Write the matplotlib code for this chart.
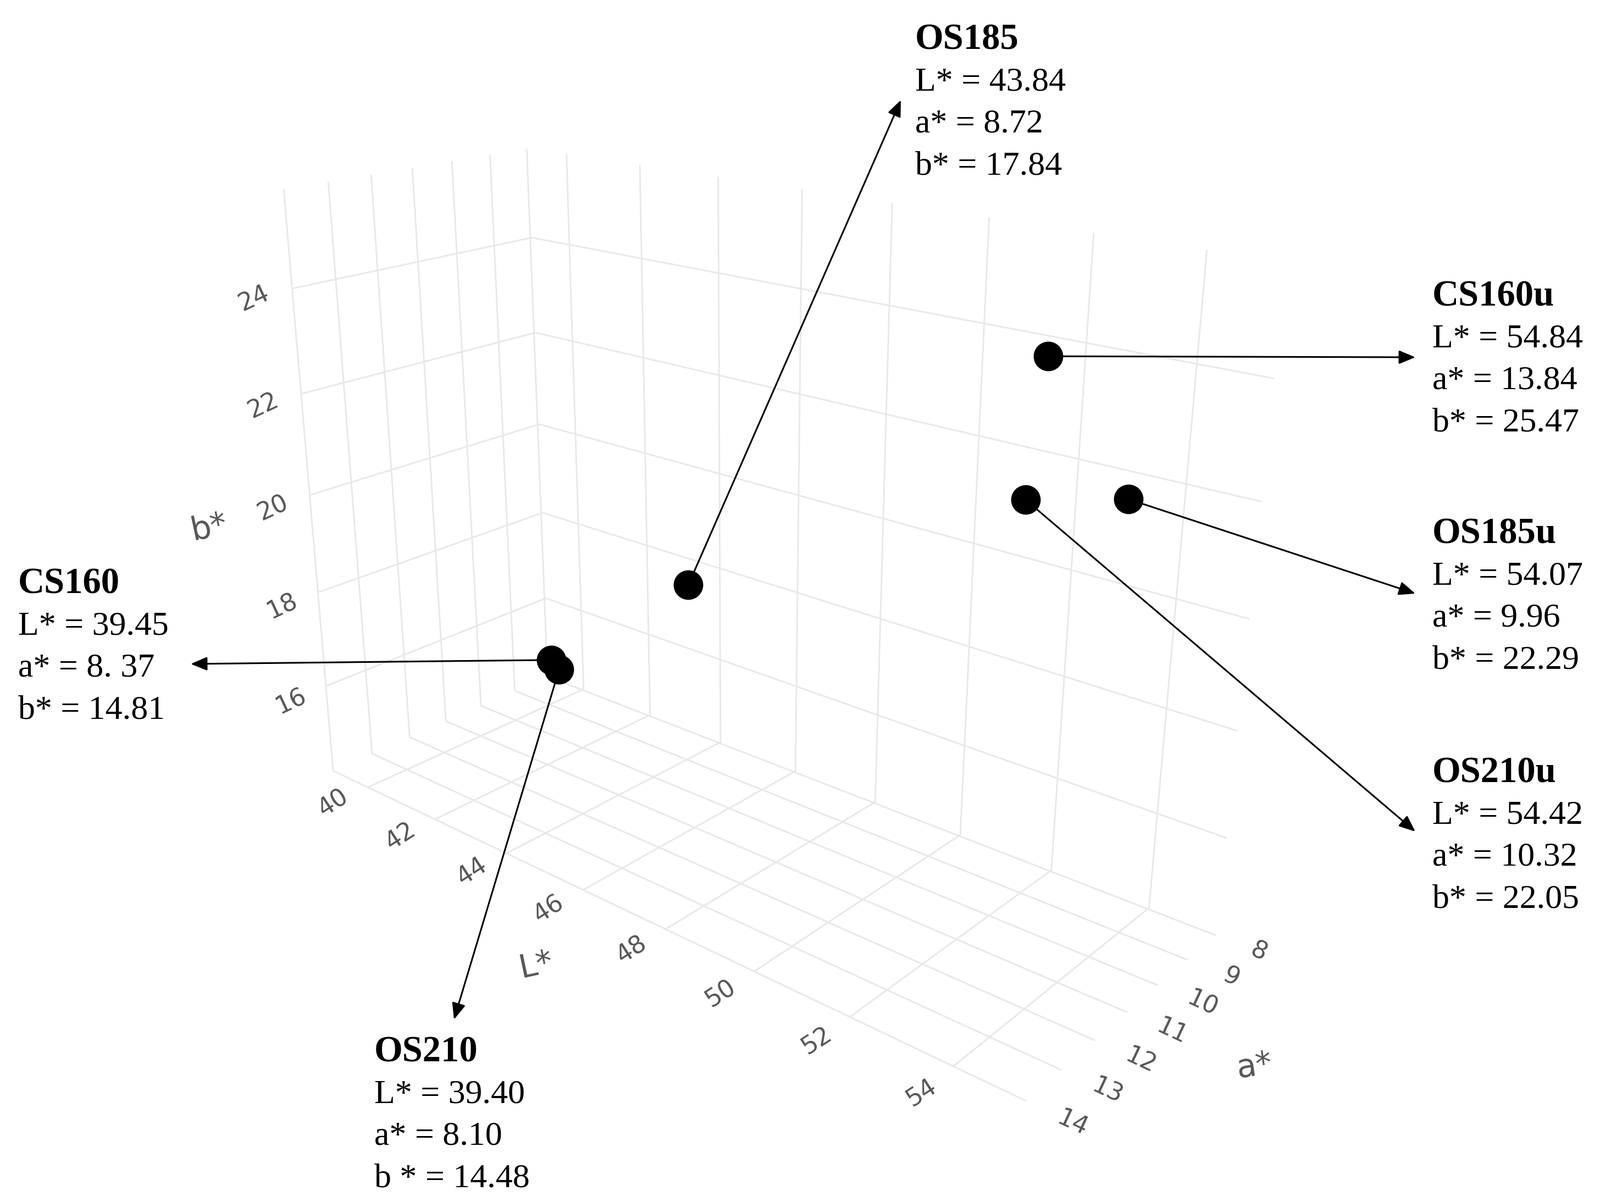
import matplotlib
matplotlib.use('Agg')
import matplotlib.pyplot as plt
from mpl_toolkits.mplot3d import proj3d

W, H = 2911, 2187

names = ['OS185', 'CS160u', 'OS185u', 'OS210u', 'CS160', 'OS210']
L_vals = [43.84, 54.84, 54.07, 54.42, 39.45, 39.40]
a_vals = [8.72, 13.84, 9.96, 13.52, 8.37, 8.10]
b_vals = [17.84, 25.47, 22.29, 23.31, 14.81, 14.48]

# label text, kept as printed in the figure
L_lines = ['L* = 43.84', 'L* = 54.84', 'L* = 54.07', 'L* = 54.42', 'L* = 39.45', 'L* = 39.40']
a_lines = ['a* = 8.72', 'a* = 13.84', 'a* = 9.96', 'a* = 10.32', 'a* = 8. 37', 'a* = 8.10']
b_lines = ['b* = 17.84', 'b* = 25.47', 'b* = 22.29', 'b* = 22.05', 'b* = 14.81', 'b * = 14.48']

L_ticks = [40, 42, 44, 46, 48, 50, 52, 54]
a_ticks = [8, 9, 10, 11, 12, 13, 14]
b_ticks = [16, 18, 20, 22, 24]

# pixel positions in the full image (y from the top)
text_x = [1665, 2606, 2606, 2606, 33, 681]
text_y = [73, 540, 972, 1407, 1063, 1915]
tip_x = [1639, 2575, 2575, 2575, 347, 826]
tip_y = [182, 650, 1080, 1513, 1208, 1855]
line_gap = 76.5


def fx(x):
    return x / W


def fy(y):
    return 1 - y / H


def main():
    plt.rcParams['grid.color'] = '#e8e8e8'
    plt.rcParams['grid.linewidth'] = 2.1

    fig = plt.figure(figsize=(W / 100, H / 100), dpi=100)
    ax = fig.add_axes([260.44 / W, (H - 2092.22) / H, 2114.45 / W, 2113.53 / H], projection='3d')
    ax.view_init(elev=20.9174, azim=40.5115, roll=0)
    ax.set_proj_type('persp', focal_length=0.3048)
    ax.set_box_aspect((0.5164, 1.4028, 1))

    ax.set_xticks(a_ticks)
    ax.set_yticks(L_ticks)
    ax.set_zticks(b_ticks)
    ax.set_xticklabels([])
    ax.set_yticklabels([])
    ax.set_zticklabels([])
    a_min, a_max = 7.9537, 14.001
    L_min, L_max = 38.9096, 55.3109
    b_min, b_max = 14.1247, 25.815
    ax.set_xlim(a_min, a_max, view_margin=0)
    ax.set_ylim(L_min, L_max, view_margin=0)
    ax.set_zlim(b_min, b_max, view_margin=0)

    ax.set_facecolor('none')
    for axis in [ax.xaxis, ax.yaxis, ax.zaxis]:
        axis.pane.set_visible(False)
        axis.line.set_visible(False)
        axis._axinfo['tick']['inward_factor'] = 0
        axis._axinfo['tick']['outward_factor'] = 0

    ax.scatter(a_vals, L_vals, b_vals, s=1500, c='black', depthshade=False, linewidths=0, zorder=5)

    M = ax.get_proj()
    tick_style = dict(family='DejaVu Sans', fontsize=32, color='#555555', ha='center', va='center')

    def tick_label(a, L, b, s, rot):
        # Text3D ignores rotation, so place a 2D label at the projected spot
        x2, y2, _ = proj3d.proj_transform(a, L, b, M)
        ax.annotate(s, (x2, y2), xycoords='data', rotation=rot, annotation_clip=False, **tick_style)

    for v in L_ticks:
        tick_label(a_max + 0.85, v, b_min, str(v), 33)
    for v in a_ticks:
        tick_label(v, L_max + 0.8, b_min, str(v), -25)
    for v in b_ticks:
        tick_label(a_max + 0.85, L_min, v - 0.03, str(v), 25)

    title_style = dict(tick_style, fontsize=42)
    fig.text(fx(975), fy(1756), 'L*', rotation=12, **title_style)
    fig.text(fx(2282), fy(1940), 'a*', rotation=8, **title_style)
    fig.text(fx(381), fy(960), 'b*', rotation=12, **title_style)

    # arrows go from each projected point to its label
    for i in range(len(names)):
        x2, y2, _ = proj3d.proj_transform(a_vals[i], L_vals[i], b_vals[i], M)
        ax.annotate('', xy=(tip_x[i], H - tip_y[i]), xycoords='figure pixels',
                    xytext=(x2, y2), textcoords='data',
                    arrowprops=dict(arrowstyle='-|>,head_length=0.6,head_width=0.25',
                                    mutation_scale=30, lw=2.2, color='black',
                                    shrinkA=0, shrinkB=0))

        y0 = text_y[i]
        fig.text(fx(text_x[i]), fy(y0), names[i], family='Liberation Serif', fontsize=48,
                 fontweight='bold', va='center', color='black')
        for k, line in enumerate([L_lines[i], a_lines[i], b_lines[i]]):
            fig.text(fx(text_x[i]), fy(y0 + (k + 1) * line_gap), line, family='Liberation Serif',
                     fontsize=44.6, va='center', color='black')

    fig.savefig('out.png', dpi=100)


if __name__ == "__main__":
    main()
